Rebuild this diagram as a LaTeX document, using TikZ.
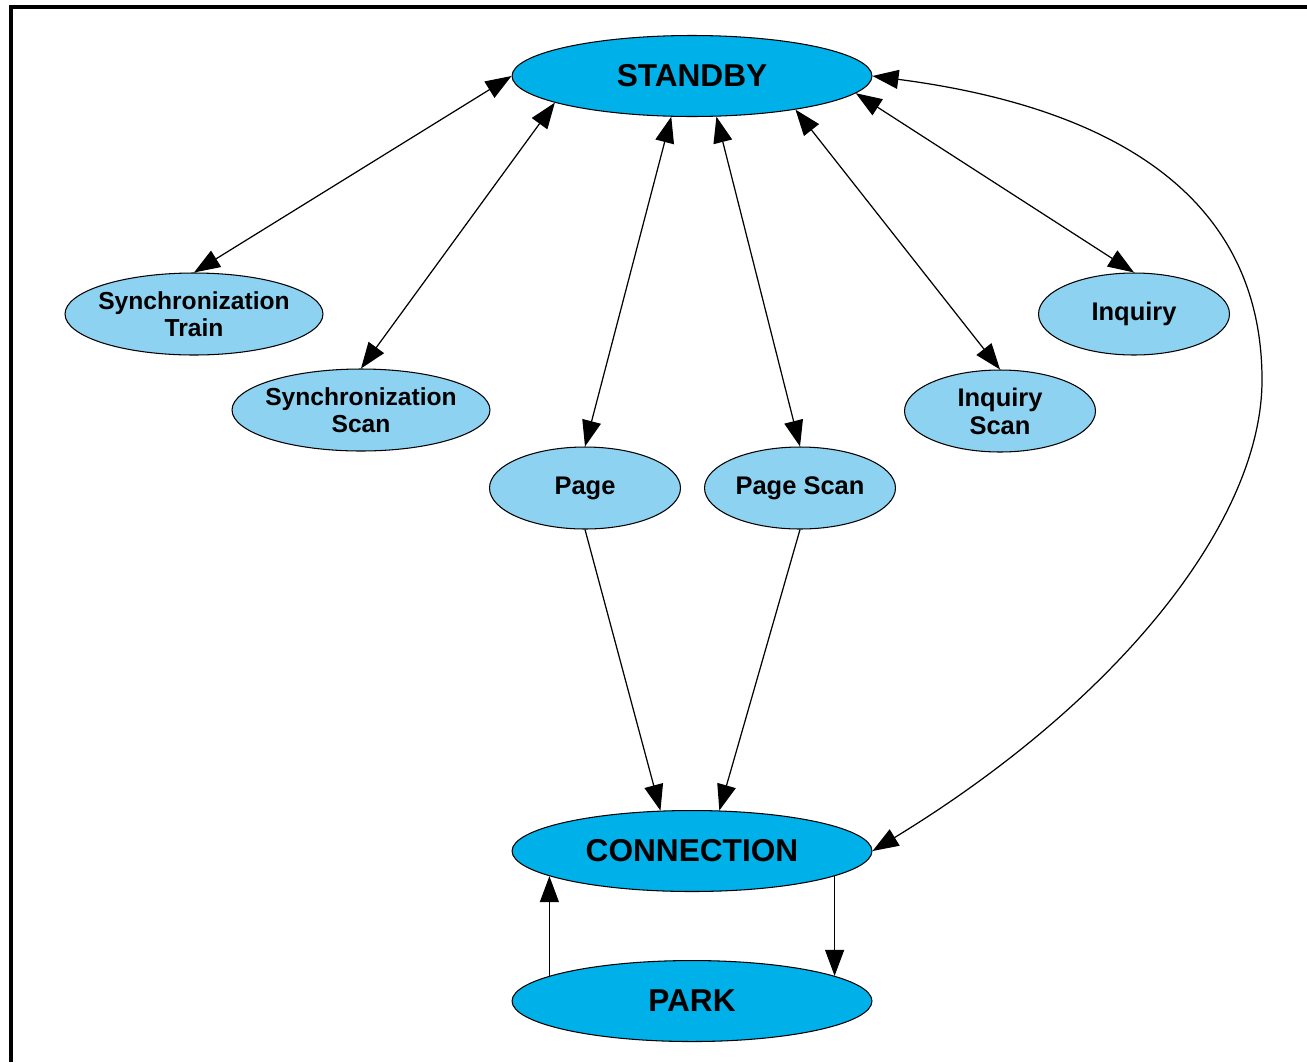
\documentclass[tikz,border=0pt]{standalone}
\usepackage{fontspec}
\setmainfont{Liberation Sans}
\usetikzlibrary{positioning,shapes.geometric,arrows.meta}
\definecolor{statefill}{RGB}{0,176,232}
\definecolor{substatefill}{RGB}{142,210,242}

\begin{document}
\begin{tikzpicture}[x=0.02cm, y=-0.02cm, >={Triangle[length=0.52cm,width=0.38cm]},
  m/.style={ellipse, draw, line width=0.6pt, fill=statefill, inner sep=0pt, minimum width=7.2cm, minimum height=1.62cm, font=\bfseries\fontsize{18}{20}\selectfont},
  sb/.style={ellipse, draw, line width=0.6pt, fill=substatefill, inner xsep=-0.2cm, inner ysep=0pt, minimum width=3.82cm, minimum height=1.64cm, align=center, font=\bfseries\fontsize{14.5}{16}\selectfont},
  w/.style={minimum width=5.16cm, font=\bfseries\fontsize{14}{15.5}\selectfont},
  e/.style={line width=0.7pt}]
	\useasboundingbox (0,0) rectangle (1307,1062);
	\draw[line width=2.2pt] (11,1062) |- (1307,7);

	\node[m] (SB) at (692,76) {STANDBY};
	\node[sb, w] (ST) at (194,314) {Synchronization\\Train};
	\node[sb, w] (SS) at (361,410) {Synchronization\\Scan};
	\node[sb] (P) at (585,488) {Page};
	\node[sb] (PS) at (800,488) {Page Scan};
	\node[sb] (IS) at (1000,411) {Inquiry\\Scan};
	\node[sb] (I) at (1134,314) {Inquiry};
	\node[m] (C) at (692,851) {CONNECTION};
	\node[m, below=1.36cm of C] (PK) {PARK};

	\path[e, <->] (SB.180) edge (ST.north);
	\path[e, <->] (SB.191) edge (SS.north);
	\path[e, <->] (SB.243) edge (P.north);
	\path[e, <->] (SB.301) edge (PS.north);
	\path[e, <->] (SB.342) edge (IS.north);
	\path[e, <->] (SB.354) edge (I.north);
	\draw[e, <->] (SB.east) .. controls (1103,106) and (1262,190) .. (1262,380)
		.. controls (1262,520) and (1120,700) .. (C.east);

	\path[e, ->] (P.south) edge (C.128);
	\path[e, ->] (PS.south) edge (C.56);
	\path[e, ->] (C.350) edge (PK.10);
	\path[e, ->] (PK.170) edge (C.190);
\end{tikzpicture}
\end{document}
